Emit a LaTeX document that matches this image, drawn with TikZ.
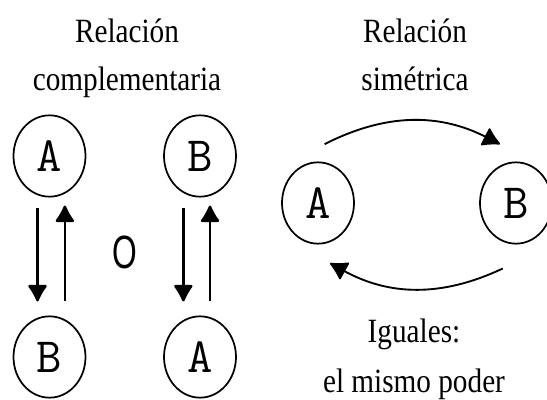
\documentclass[tikz,border=0pt]{standalone}
\usepackage{fontspec}
\setmainfont{Liberation Serif}[FakeStretch=0.86]
\newfontfamily\orfont{Liberation Sans}[FakeStretch=0.68]
\usetikzlibrary{shapes.geometric,arrows.meta}

\tikzset{
  party/.style={draw, ellipse, line width=1.3pt, minimum width=54pt, minimum height=61pt,
    inner sep=0pt, font=\ttfamily\fontsize{37}{37}\selectfont},
  title/.style={anchor=base, font=\fontsize{25.5}{28}\selectfont},
  arr/.style={line width=1.8pt, -{Latex[length=14pt,width=16pt,round]}},
}

\begin{document}
\begin{tikzpicture}[x=0.75pt,y=0.75pt]
\useasboundingbox (0,0) rectangle (547,-400);

% complementaria
\node[title] (t1) at (127,-42) {Relación};
\node[title] (t2) at (127,-90) {complementaria};
\node[party] (a1) at (49.5,-156) {A};
\node[party] (b1) at (200,-156) {B};
\node[party] (b2) at (49.5,-357) {B};
\node[party] (a2) at (200,-357) {A};
\node[font=\orfont\fontsize{35}{35}\selectfont] (o) at (125,-252) {O};

\draw[arr] ([shift={(-9pt,-8pt)}]a1.south) -- ([shift={(-9pt,10.5pt)}]b2.north);
\draw[arr] ([shift={(11.5pt,10.5pt)}]b2.north) -- ([shift={(11.5pt,-6pt)}]a1.south);
\draw[arr] ([shift={(-12.5pt,-8pt)}]b1.south) -- ([shift={(-12.5pt,10.5pt)}]a2.north);
\draw[arr] ([shift={(7.5pt,10.5pt)}]a2.north) -- ([shift={(7.5pt,-6pt)}]b1.south);

% simetrica
\node[title] (t3) at (415,-42) {Relación};
\node[title] (t4) at (415,-90) {simétrica};
\node[party] (a3) at (318,-203) {A};
\node[party] (b3) at (516,-203) {B};
\node[title] (t5) at (414,-342) {Iguales:};
\node[title] (t6) at (414,-392) {el mismo poder};

\draw[arr, line width=1.4pt] ([shift={(5pt,13pt)}]a3.north) to[bend left=27] ([shift={(-12pt,13pt)}]b3.north);
\draw[arr, line width=1.4pt] ([shift={(-10pt,-18pt)}]b3.south) to[bend left=27] ([shift={(9pt,-14pt)}]a3.south);

\end{tikzpicture}
\end{document}
